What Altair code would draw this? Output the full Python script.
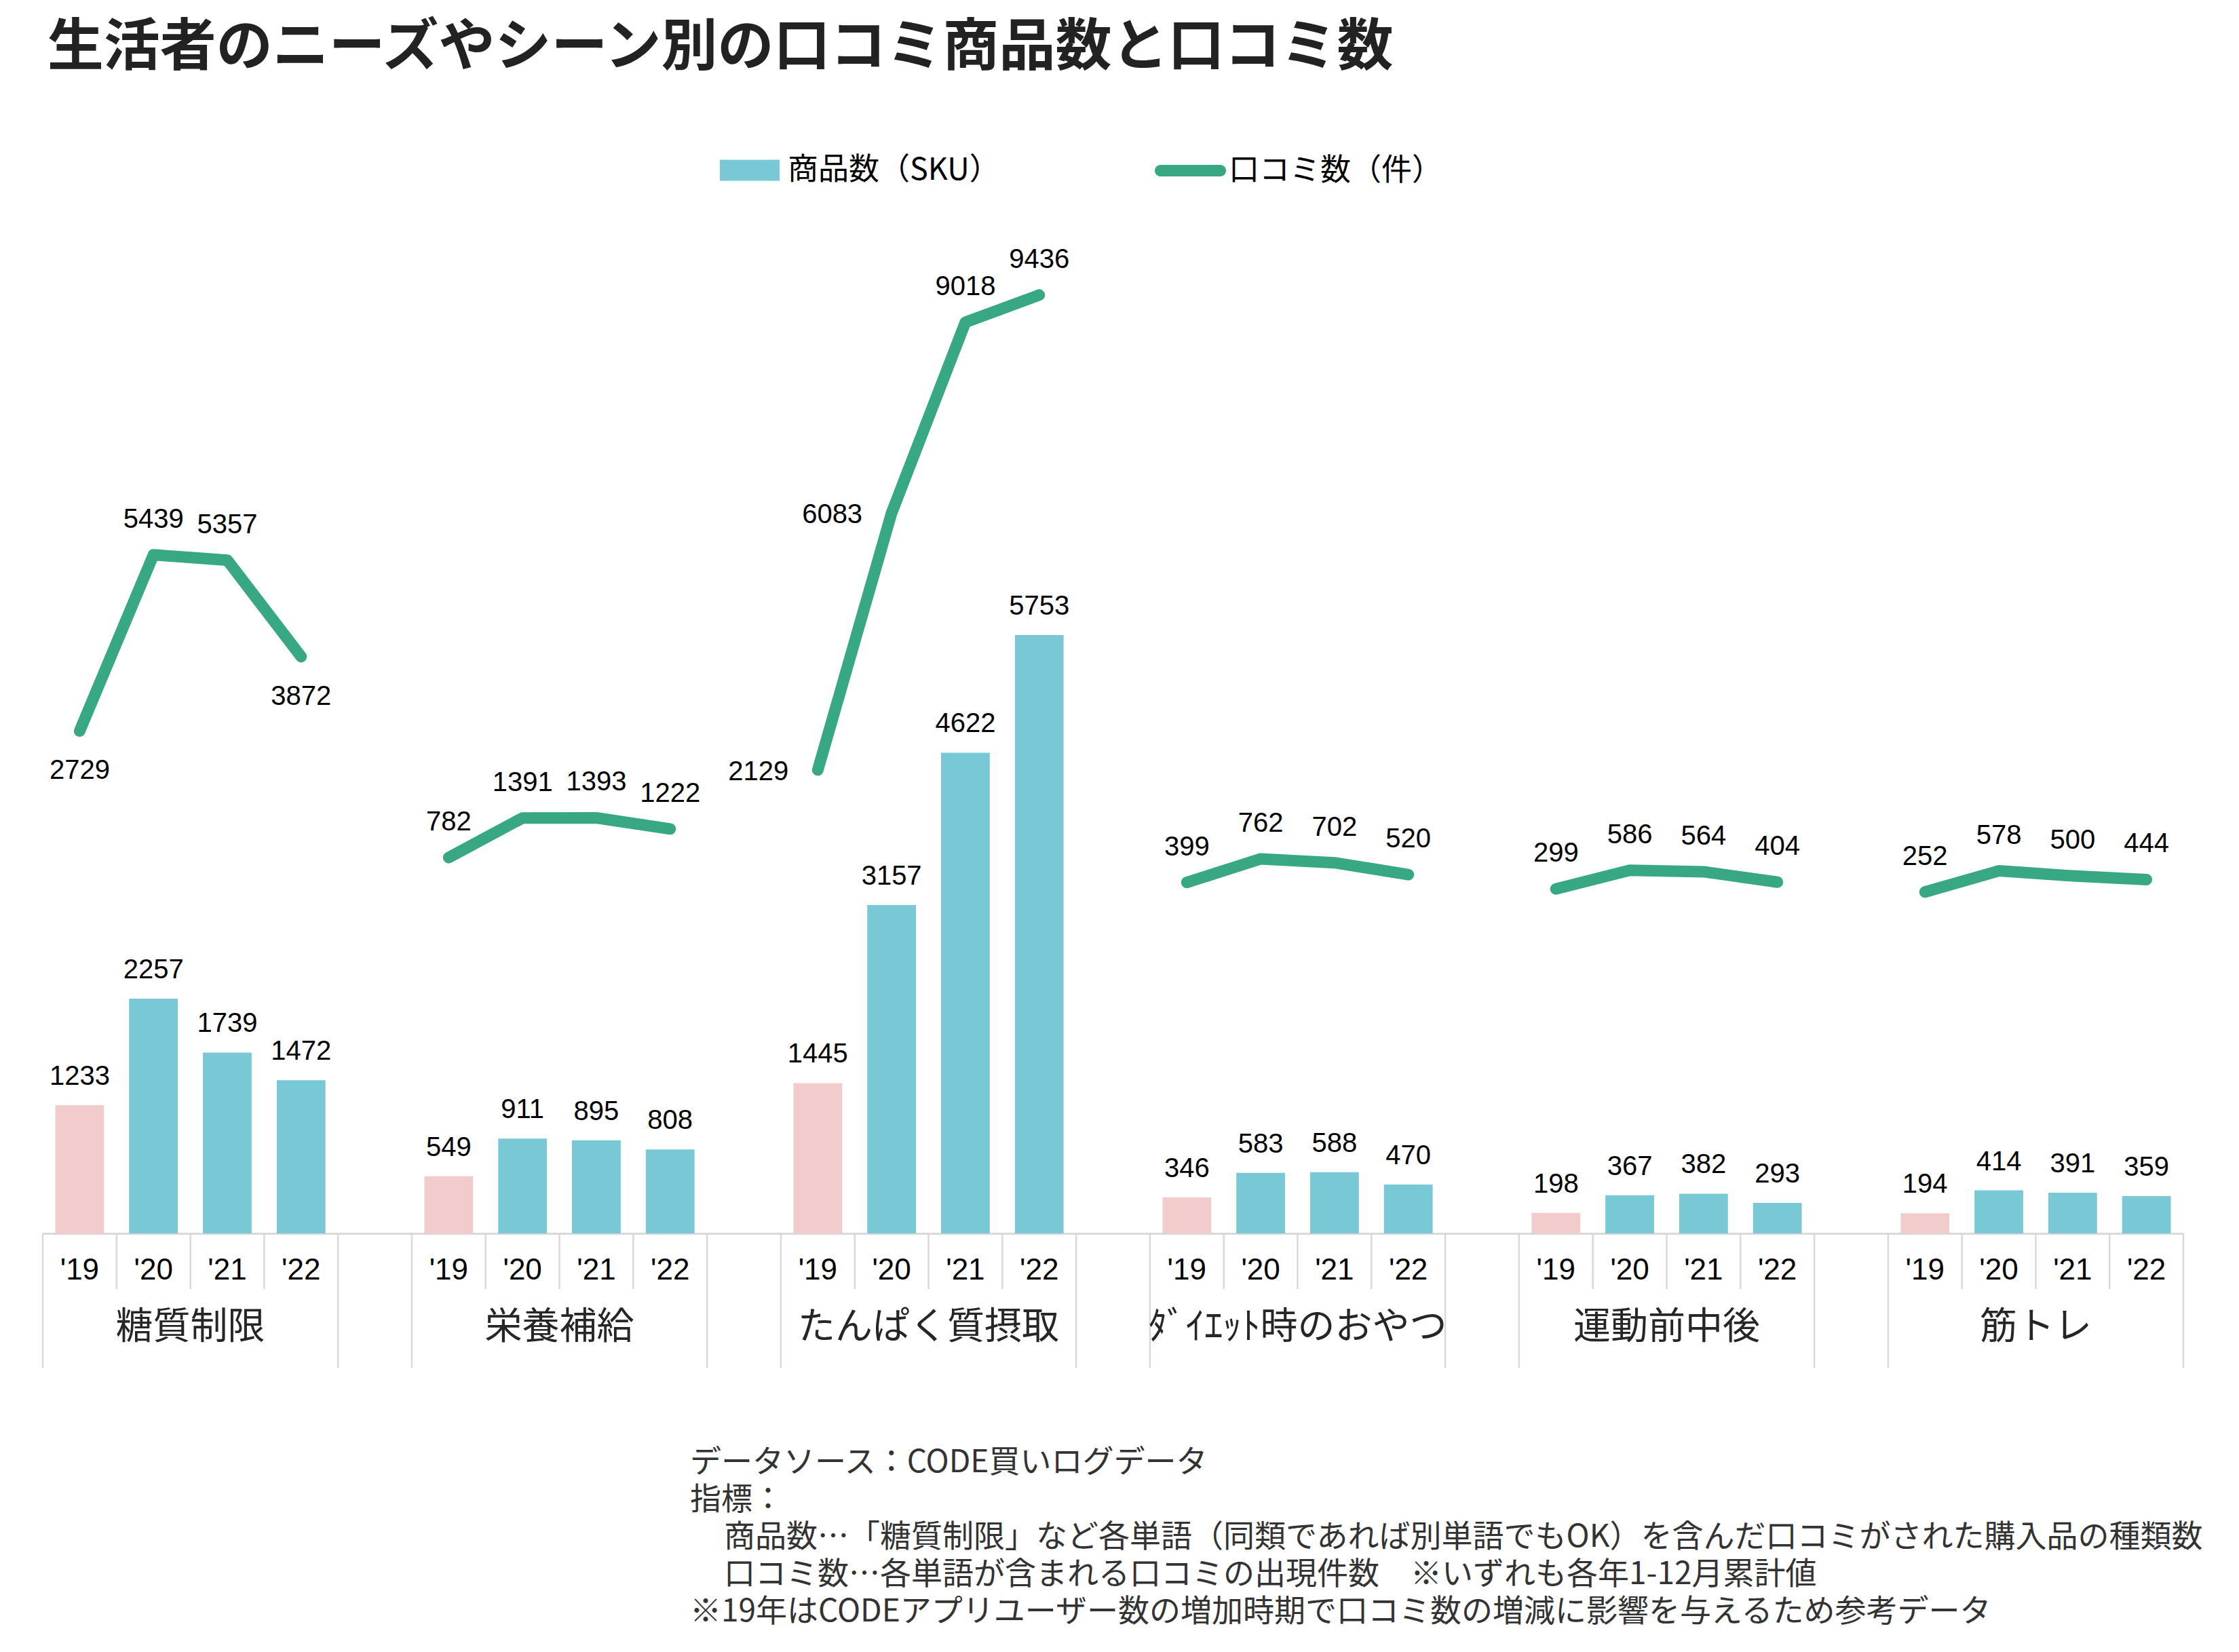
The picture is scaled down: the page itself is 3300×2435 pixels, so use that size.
import altair as alt
import pandas as pd

# ---- data -------------------------------------------------------------
groups = ["糖質制限", "栄養補給", "たんぱく質摂取", "ﾀﾞｲｴｯﾄ時のおやつ", "運動前中後", "筋トレ"]
years = ["'19", "'20", "'21", "'22"]

sku_toushitsu = [1233, 2257, 1739, 1472]
sku_eiyou = [549, 911, 895, 808]
sku_protein = [1445, 3157, 4622, 5753]
sku_oyatsu = [346, 583, 588, 470]
sku_undou = [198, 367, 382, 293]
sku_kintore = [194, 414, 391, 359]

rev_toushitsu = [2729, 5439, 5357, 3872]
rev_eiyou = [782, 1391, 1393, 1222]
rev_protein = [2129, 6083, 9018, 9436]
rev_oyatsu = [399, 762, 702, 520]
rev_undou = [299, 586, 564, 404]
rev_kintore = [252, 578, 500, 444]

sku_series = [sku_toushitsu, sku_eiyou, sku_protein, sku_oyatsu, sku_undou, sku_kintore]
rev_series = [rev_toushitsu, rev_eiyou, rev_protein, rev_oyatsu, rev_undou, rev_kintore]

BAR_NAME = "商品数（SKU）"
LINE_NAME = "口コミ数（件）"

notes = [
    "データソース：CODE買いログデータ",
    "指標：",
    "商品数…「糖質制限」など各単語（同類であれば別単語でもOK）を含んだ口コミがされた購入品の種類数",
    "口コミ数…各単語が含まれる口コミの出現件数　※いずれも各年1-12月累計値",
    "※19年はCODEアプリユーザー数の増加時期で口コミ数の増減に影響を与えるため参考データ",
]
notes_indented = [False, False, True, True, False]

# where each review-count label sits relative to its point (default: above)
review_label_side = {
    ("糖質制限", "'19"): "below",
    ("糖質制限", "'22"): "below",
    ("たんぱく質摂取", "'19"): "left",
    ("たんぱく質摂取", "'20"): "left",
}

# ---- styling ----------------------------------------------------------
BLUE = "#78C8D6"
PINK = "#F2CCCC"
GREEN = "#37A883"
GREY = "#D9D9D9"
TEXT = "#262626"
JP = "Noto Sans CJK JP"
NUM = "Liberation Sans"

W, H = 3155, 1533
SLOTS = 5  # four years plus one empty spacer slot per group
n_slots = len(groups) * SLOTS - 1

# ---- tables -----------------------------------------------------------
rows = []
for g, name in enumerate(groups):
    for i, yr in enumerate(years):
        slot = g * SLOTS + i
        rows.append(dict(
            group=name, year=yr, slot=slot,
            x0=slot + 0.17, x1=slot + 0.83, xc=slot + 0.5,
            sku=sku_series[g][i], reviews=rev_series[g][i],
            ref=(i == 0),
            side=review_label_side.get((name, yr), "above"),
            bar_series=BAR_NAME, line_series=LINE_NAME,
        ))
df = pd.DataFrame(rows)

div_rows = []
for g in range(len(groups)):
    div_rows.append(dict(b=g * SLOTS, kind="outer"))
    div_rows.append(dict(b=g * SLOTS + len(years), kind="outer"))
    for j in range(1, len(years)):
        div_rows.append(dict(b=g * SLOTS + j, kind="inner"))
div_df = pd.DataFrame(div_rows)

grp_df = pd.DataFrame(dict(group=groups, gx=[g * SLOTS + len(years) / 2 for g in range(len(groups))]))
note_df = pd.DataFrame(dict(line=list(range(len(notes))), text=notes, indent=notes_indented))

# ---- scales -----------------------------------------------------------
x_scale = alt.Scale(domain=[0, n_slots], nice=False, zero=False)
x_axis = alt.Axis(title=None, labels=False, ticks=False, grid=False,
                  domain=True, domainColor=GREY, domainWidth=3)
bar_y = alt.Scale(domain=[0, 10000], nice=False)
line_y = alt.Scale(domain=[-5000, 11000], nice=False, zero=False)
# footnote rows sit below the category axis, one line every 55 px
note_y = alt.Scale(domain=[0, len(notes) - 1], range=[1885, 1885 + 55 * (len(notes) - 1)], nice=False, zero=False)


def X(field):
    return alt.X(f"{field}:Q", scale=x_scale, axis=x_axis)


base = alt.Chart(df)

bars = base.mark_bar().encode(
    x=X("x0"), x2="x1:Q",
    y=alt.Y("sku:Q", scale=bar_y, axis=None),
    y2=alt.datum(0),
    color=alt.condition(
        "datum.ref",
        alt.value(PINK),
        alt.Color("bar_series:N",
                  scale=alt.Scale(domain=[BAR_NAME], range=[BLUE]),
                  legend=alt.Legend(
                      orient="none", legendX=998, legendY=-78, title=None,
                      padding=0, symbolType="M-1,-0.352H1V0.352H-1Z",
                      symbolSize=7744, symbolStrokeWidth=0,
                      labelFont=JP, labelFontSize=45, labelColor="#000000",
                      labelOffset=12, labelLimit=1000)),
    ),
)

bar_labels = base.mark_text(font=NUM, fontSize=40, baseline="alphabetic",
                            dy=-30, color="#000000").encode(
    x=X("xc"), y=alt.Y("sku:Q", scale=bar_y, axis=None), text="sku:Q")

line = base.mark_line(strokeWidth=17, strokeCap="round", strokeJoin="round").encode(
    x=X("xc"),
    y=alt.Y("reviews:Q", scale=line_y, axis=None),
    detail="group:N",
    stroke=alt.Stroke("line_series:N",
                      scale=alt.Scale(domain=[LINE_NAME], range=[GREEN]),
                      legend=alt.Legend(
                          orient="none", legendX=1639, legendY=-86, title=None,
                          padding=0,
                          symbolType="M-0.838,-0.162L0.838,-0.162A0.162,0.162 0 0 1 0.838,0.162"
                                     "L-0.838,0.162A0.162,0.162 0 0 1 -0.838,-0.162Z",
                          symbolSize=11025, symbolStrokeWidth=0,
                          symbolFillColor=GREEN,
                          labelFont=JP, labelFontSize=45, labelColor="#000000",
                          labelOffset=4, labelLimit=1000)),
)


def review_labels(side, **mark):
    return base.transform_filter(alt.datum.side == side).mark_text(
        font=NUM, fontSize=40, baseline="alphabetic", color="#000000", **mark
    ).encode(x=X("xc"), y=alt.Y("reviews:Q", scale=line_y, axis=None), text="reviews:Q")


rev_above = review_labels("above", dy=-40)
rev_below = review_labels("below", dy=71)
rev_left = review_labels("left", align="right", dx=-43, dy=15)

# multi-level category axis: dividers, year labels, group labels
div_inner = alt.Chart(div_df).transform_filter(alt.datum.kind == "inner").mark_rule(
    color=GREY, strokeWidth=2.5).encode(x=X("b"), y=alt.value(H), y2=alt.value(H + 82))
div_outer = alt.Chart(div_df).transform_filter(alt.datum.kind == "outer").mark_rule(
    color=GREY, strokeWidth=2.5).encode(x=X("b"), y=alt.value(H), y2=alt.value(H + 198))

year_labels = base.mark_text(font=NUM, fontSize=44, color="#000000", baseline="middle").encode(
    x=X("xc"), y=alt.value(H + 55), text="year:N")

group_labels = alt.Chart(grp_df).mark_text(font=JP, fontSize=55, color=TEXT, baseline="middle").encode(
    x=X("gx"), y=alt.value(H + 138), text="group:N")


def note_block(indented, left):
    return alt.Chart(note_df).transform_filter(alt.datum.indent == indented).mark_text(
        font=JP, fontSize=46, color="#333333", align="left", baseline="alphabetic",
    ).encode(x=alt.value(left), y=alt.Y("line:Q", scale=note_y, axis=None), text="text:N")


notes_flush = note_block(False, 954)
notes_indent = note_block(True, 1004)

chart = alt.layer(
    bars, bar_labels, line, rev_above, rev_below, rev_left,
    div_inner, div_outer, year_labels, group_labels, notes_flush, notes_indent,
).resolve_scale(
    y="independent"
).properties(
    width=W, height=H,
    padding={"left": 63, "top": 285, "right": 3300 - 63 - W, "bottom": 2435 - 285 - H},
    autosize=alt.AutoSizeParams(type="none"),
    title=alt.TitleParams(
        text="生活者のニーズやシーン別の口コミ商品数と口コミ数",
        anchor="start", font=JP, fontSize=83, fontWeight="bold", color="#222222",
        dx=8, offset=86,
    ),
    background="white",
).configure_view(strokeWidth=0)

chart.save("out.html", embed_options={"renderer": "svg", "actions": False})
